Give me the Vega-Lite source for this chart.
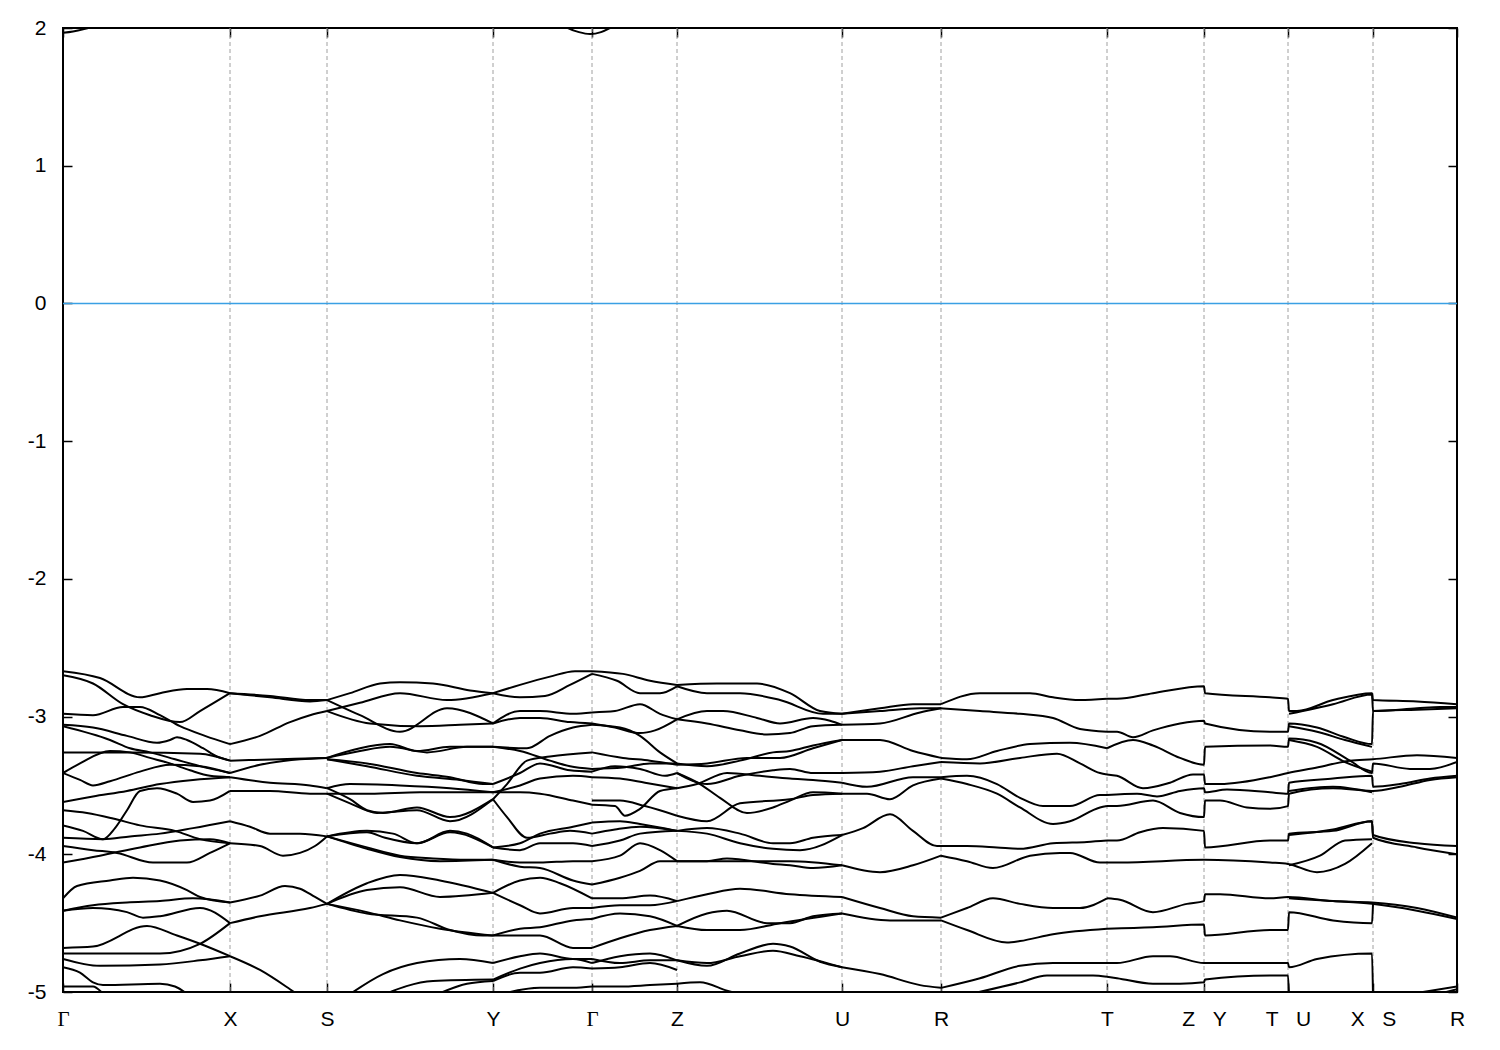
{
  "$schema": "https://vega.github.io/schema/vega-lite/v6.json",
  "width": 1394,
  "height": 964,
  "autosize": "none",
  "padding": {"left": 63, "top": 28, "right": 43, "bottom": 58},
  "background": "white",
  "config": {"view": {"stroke": "#000000", "strokeWidth": 2}, "font": "Liberation Sans"},
  "datasets": {
    "hs": [{"k": 167}, {"k": 264}, {"k": 430}, {"k": 529}, {"k": 614}, {"k": 779}, {"k": 878}, {"k": 1044}, {"k": 1141}, {"k": 1225}, {"k": 1310}],
    "bands": [
      {"b": "cb1", "k": [0, 10, 20, 30, 60, 120], "e": [1.965, 1.975, 1.99, 2.01, 2.1, 2.3]},
      {"b": "cb2", "k": [450, 490, 505, 516, 527, 538, 547, 570, 610], "e": [2.3, 2.08, 2.0, 1.97, 1.956, 1.97, 2.0, 2.1, 2.3]},
      {"b": "a1", "k": [0, 37, 77, 97, 124, 144, 167], "e": [-2.67, -2.72, -2.86, -2.83, -2.80, -2.80, -2.83]},
      {"b": "a2", "k": [0, 30, 60, 87, 117, 137, 167], "e": [-2.70, -2.76, -2.91, -2.99, -3.04, -2.96, -2.83]},
      {"b": "a3", "k": [0, 30, 60, 77, 97, 117, 142, 167], "e": [-2.98, -2.99, -2.93, -2.93, -2.99, -3.07, -3.14, -3.20]},
      {"b": "a4", "k": [0, 30, 64, 94, 107, 114, 124, 140, 154, 167], "e": [-3.06, -3.08, -3.14, -3.19, -3.17, -3.15, -3.17, -3.23, -3.29, -3.32]},
      {"b": "a5", "k": [0, 47, 67, 87, 112, 137, 167], "e": [-3.07, -3.17, -3.23, -3.26, -3.31, -3.36, -3.41]},
      {"b": "a6", "k": [0, 67, 137, 167], "e": [-3.26, -3.26, -3.27, -3.32]},
      {"b": "a7", "k": [0, 17, 47, 67, 87, 107, 127, 147, 167], "e": [-3.41, -3.34, -3.25, -3.26, -3.30, -3.34, -3.39, -3.43, -3.44]},
      {"b": "a8", "k": [0, 17, 30, 47, 77, 107, 137, 167], "e": [-3.41, -3.46, -3.50, -3.47, -3.40, -3.35, -3.36, -3.41]},
      {"b": "a9", "k": [0, 30, 64, 97, 130, 167], "e": [-3.62, -3.58, -3.54, -3.49, -3.46, -3.44]},
      {"b": "a10", "k": [0, 20, 40, 52, 64, 77, 94, 114, 130, 147, 167], "e": [-3.79, -3.83, -3.89, -3.81, -3.68, -3.54, -3.52, -3.56, -3.62, -3.61, -3.54]},
      {"b": "a11", "k": [0, 40, 67, 97, 130, 167], "e": [-3.88, -3.89, -3.87, -3.85, -3.81, -3.76]},
      {"b": "a12", "k": [0, 24, 50, 77, 112, 137, 167], "e": [-3.68, -3.70, -3.74, -3.79, -3.83, -3.89, -3.92]},
      {"b": "a13", "k": [0, 30, 54, 90, 124, 147, 167], "e": [-3.94, -3.97, -3.99, -4.06, -4.06, -3.99, -3.92]},
      {"b": "a14", "k": [0, 37, 77, 117, 147, 167], "e": [-4.06, -4.01, -3.95, -3.90, -3.89, -3.92]},
      {"b": "a15", "k": [0, 14, 47, 70, 97, 124, 137, 167], "e": [-4.32, -4.23, -4.19, -4.17, -4.19, -4.26, -4.31, -4.35]},
      {"b": "a16", "k": [0, 30, 64, 97, 130, 167], "e": [-4.41, -4.37, -4.35, -4.34, -4.32, -4.35]},
      {"b": "a17", "k": [0, 30, 64, 80, 97, 137, 167], "e": [-4.41, -4.39, -4.42, -4.46, -4.45, -4.39, -4.50]},
      {"b": "a18", "k": [0, 30, 84, 114, 137, 167], "e": [-4.68, -4.67, -4.52, -4.59, -4.65, -4.74]},
      {"b": "a19", "k": [0, 37, 97, 137, 167], "e": [-4.72, -4.72, -4.72, -4.65, -4.50]},
      {"b": "a20", "k": [0, 37, 97, 137, 167], "e": [-4.76, -4.81, -4.80, -4.77, -4.74]},
      {"b": "a21", "k": [0, 17, 30, 40, 97, 112, 127], "e": [-4.82, -4.86, -4.93, -4.95, -4.94, -4.96, -5.03]},
      {"b": "a22", "k": [0, 30, 40, 47], "e": [-4.96, -4.96, -5.01, -5.06]},
      {"b": "b1", "k": [167, 207, 247, 264], "e": [-2.83, -2.86, -2.89, -2.88]},
      {"b": "b2", "k": [167, 207, 247, 264], "e": [-2.83, -2.85, -2.88, -2.88]},
      {"b": "b3", "k": [167, 197, 227, 247, 264], "e": [-3.20, -3.14, -3.04, -2.99, -2.96]},
      {"b": "b4", "k": [167, 217, 264], "e": [-3.32, -3.31, -3.30]},
      {"b": "b5", "k": [167, 197, 237, 264], "e": [-3.41, -3.35, -3.31, -3.30]},
      {"b": "b6", "k": [167, 207, 247, 264], "e": [-3.44, -3.48, -3.50, -3.52]},
      {"b": "b7", "k": [167, 207, 247, 264], "e": [-3.54, -3.54, -3.56, -3.56]},
      {"b": "b8", "k": [167, 187, 207, 237, 264], "e": [-3.76, -3.80, -3.85, -3.85, -3.87]},
      {"b": "b9", "k": [167, 197, 220, 237, 252, 264], "e": [-3.92, -3.94, -4.01, -3.99, -3.94, -3.87]},
      {"b": "b10", "k": [167, 197, 222, 237, 252, 264], "e": [-4.35, -4.30, -4.23, -4.25, -4.31, -4.36]},
      {"b": "b11", "k": [167, 197, 247, 264], "e": [-4.50, -4.45, -4.39, -4.36]},
      {"b": "b12", "k": [167, 197, 227, 237], "e": [-4.74, -4.84, -4.98, -5.03]},
      {"b": "c1", "k": [264, 287, 317, 337, 370, 407, 430], "e": [-2.88, -2.83, -2.76, -2.75, -2.76, -2.81, -2.83]},
      {"b": "c2", "k": [264, 297, 337, 384, 430], "e": [-2.96, -2.90, -2.83, -2.88, -2.83]},
      {"b": "c3", "k": [264, 297, 337, 384, 430], "e": [-2.88, -2.99, -3.11, -2.94, -3.05]},
      {"b": "c4", "k": [264, 307, 357, 397, 430], "e": [-2.96, -3.05, -3.07, -3.06, -3.05]},
      {"b": "c5", "k": [264, 297, 327, 354, 387, 430], "e": [-3.30, -3.23, -3.20, -3.25, -3.22, -3.22]},
      {"b": "c6", "k": [264, 297, 327, 364, 404, 430], "e": [-3.30, -3.25, -3.22, -3.26, -3.22, -3.22]},
      {"b": "c7", "k": [264, 304, 354, 387, 420, 430], "e": [-3.31, -3.34, -3.41, -3.44, -3.49, -3.49]},
      {"b": "c8", "k": [264, 304, 354, 397, 430], "e": [-3.31, -3.36, -3.43, -3.46, -3.49]},
      {"b": "c9", "k": [264, 287, 337, 387, 430], "e": [-3.52, -3.49, -3.50, -3.52, -3.55]},
      {"b": "c10", "k": [264, 307, 357, 430], "e": [-3.56, -3.56, -3.55, -3.55]},
      {"b": "c11", "k": [264, 287, 304, 320, 354, 387, 430], "e": [-3.52, -3.60, -3.68, -3.70, -3.66, -3.73, -3.60]},
      {"b": "c12", "k": [264, 287, 314, 354, 387, 430], "e": [-3.56, -3.63, -3.70, -3.68, -3.76, -3.60]},
      {"b": "c13", "k": [264, 304, 330, 354, 387, 404, 430], "e": [-3.87, -3.83, -3.85, -3.92, -3.83, -3.85, -3.95]},
      {"b": "c14", "k": [264, 304, 322, 354, 387, 430], "e": [-3.87, -3.84, -3.88, -3.92, -3.84, -3.95]},
      {"b": "c15", "k": [264, 304, 337, 370, 404, 430], "e": [-3.87, -3.95, -4.01, -4.03, -4.04, -4.04]},
      {"b": "c16", "k": [264, 304, 337, 377, 430], "e": [-3.87, -3.96, -4.02, -4.05, -4.04]},
      {"b": "c17", "k": [264, 304, 337, 377, 430], "e": [-4.36, -4.21, -4.15, -4.19, -4.28]},
      {"b": "c18", "k": [264, 304, 337, 377, 430], "e": [-4.36, -4.26, -4.24, -4.31, -4.28]},
      {"b": "c19", "k": [264, 304, 354, 387, 420, 430], "e": [-4.36, -4.43, -4.46, -4.55, -4.59, -4.59]},
      {"b": "c20", "k": [264, 304, 337, 377, 430], "e": [-4.36, -4.42, -4.48, -4.54, -4.59]},
      {"b": "c21", "k": [284, 320, 354, 397, 430], "e": [-5.03, -4.87, -4.79, -4.76, -4.79]},
      {"b": "c22", "k": [317, 370, 430], "e": [-5.03, -4.92, -4.91]},
      {"b": "c23", "k": [370, 404, 430], "e": [-5.03, -4.94, -4.92]},
      {"b": "d1", "k": [430, 457, 487, 512, 529], "e": [-2.83, -2.77, -2.71, -2.67, -2.67]},
      {"b": "d2", "k": [430, 457, 482, 507, 529], "e": [-2.83, -2.86, -2.85, -2.77, -2.69]},
      {"b": "d3", "k": [430, 457, 477, 510, 529], "e": [-3.05, -2.96, -2.96, -2.98, -2.97]},
      {"b": "d4", "k": [430, 457, 477, 507, 529], "e": [-3.05, -3.01, -3.01, -3.04, -3.05]},
      {"b": "d5", "k": [430, 464, 487, 510, 529], "e": [-3.22, -3.23, -3.14, -3.08, -3.06]},
      {"b": "d6", "k": [430, 457, 487, 507, 529], "e": [-3.22, -3.25, -3.32, -3.36, -3.38]},
      {"b": "d7", "k": [430, 457, 477, 507, 529], "e": [-3.49, -3.41, -3.34, -3.39, -3.40]},
      {"b": "d8", "k": [430, 457, 477, 510, 529], "e": [-3.55, -3.50, -3.45, -3.43, -3.44]},
      {"b": "d9", "k": [430, 457, 477, 510, 529], "e": [-3.55, -3.55, -3.56, -3.61, -3.64]},
      {"b": "d10", "k": [430, 444, 464, 487, 529], "e": [-3.60, -3.49, -3.32, -3.29, -3.26]},
      {"b": "d11", "k": [430, 444, 464, 487, 507, 529], "e": [-3.60, -3.73, -3.88, -3.85, -3.83, -3.85]},
      {"b": "d12", "k": [430, 457, 477, 510, 529], "e": [-3.95, -3.92, -3.85, -3.80, -3.77]},
      {"b": "d13", "k": [430, 457, 477, 510, 529], "e": [-3.95, -3.97, -3.92, -3.92, -3.94]},
      {"b": "d14", "k": [430, 457, 477, 510, 529], "e": [-4.04, -4.06, -4.06, -4.05, -4.05]},
      {"b": "d15", "k": [430, 457, 477, 510, 529], "e": [-4.04, -4.09, -4.10, -4.19, -4.22]},
      {"b": "d16", "k": [430, 457, 477, 497, 529], "e": [-4.28, -4.19, -4.17, -4.21, -4.32]},
      {"b": "d17", "k": [430, 457, 477, 510, 529], "e": [-4.28, -4.37, -4.43, -4.39, -4.39]},
      {"b": "d18", "k": [430, 457, 477, 510, 529], "e": [-4.59, -4.54, -4.53, -4.48, -4.47]},
      {"b": "d19", "k": [430, 457, 477, 510, 529], "e": [-4.59, -4.59, -4.59, -4.68, -4.68]},
      {"b": "d20", "k": [430, 457, 477, 510, 529], "e": [-4.79, -4.74, -4.72, -4.76, -4.76]},
      {"b": "d21", "k": [430, 457, 477, 510, 529], "e": [-4.91, -4.83, -4.79, -4.76, -4.79]},
      {"b": "d22", "k": [430, 457, 477, 510, 529], "e": [-4.92, -4.86, -4.86, -4.82, -4.83]},
      {"b": "d23", "k": [430, 477, 510, 529], "e": [-5.03, -4.97, -4.97, -4.96]},
      {"b": "e1", "k": [529, 560, 587, 614], "e": [-2.67, -2.69, -2.74, -2.77]},
      {"b": "e2", "k": [529, 554, 577, 597, 614], "e": [-2.69, -2.74, -2.83, -2.83, -2.78]},
      {"b": "e3", "k": [529, 552, 577, 597, 614], "e": [-2.97, -2.96, -2.91, -2.98, -3.02]},
      {"b": "e4", "k": [529, 552, 577, 592, 614], "e": [-3.05, -3.08, -3.12, -3.10, -3.02]},
      {"b": "e5", "k": [529, 557, 577, 597, 614], "e": [-3.06, -3.08, -3.14, -3.26, -3.34]},
      {"b": "e6", "k": [529, 560, 587, 614], "e": [-3.38, -3.37, -3.34, -3.34]},
      {"b": "e6b", "k": [529, 560, 587, 614], "e": [-3.26, -3.30, -3.32, -3.35]},
      {"b": "e7", "k": [529, 552, 577, 602, 614], "e": [-3.40, -3.36, -3.38, -3.43, -3.41]},
      {"b": "e8", "k": [529, 557, 582, 614], "e": [-3.44, -3.45, -3.48, -3.52]},
      {"b": "e9", "k": [529, 552, 562, 577, 597, 614], "e": [-3.64, -3.65, -3.72, -3.67, -3.54, -3.52]},
      {"b": "e10", "k": [529, 557, 582, 614], "e": [-3.61, -3.61, -3.65, -3.72]},
      {"b": "e11", "k": [529, 552, 577, 614], "e": [-3.85, -3.82, -3.80, -3.83]},
      {"b": "e12", "k": [529, 557, 577, 614], "e": [-3.77, -3.76, -3.78, -3.83]},
      {"b": "e13", "k": [529, 557, 577, 614], "e": [-3.94, -3.90, -3.85, -3.83]},
      {"b": "e14", "k": [529, 557, 577, 597, 614], "e": [-4.05, -4.01, -3.92, -3.97, -4.05]},
      {"b": "e15", "k": [529, 557, 577, 597, 614], "e": [-4.22, -4.17, -4.12, -4.05, -4.05]},
      {"b": "e16", "k": [529, 557, 587, 614], "e": [-4.32, -4.32, -4.30, -4.34]},
      {"b": "e17", "k": [529, 557, 587, 614], "e": [-4.39, -4.37, -4.37, -4.34]},
      {"b": "e18", "k": [529, 557, 587, 614], "e": [-4.47, -4.43, -4.45, -4.52]},
      {"b": "e19", "k": [529, 557, 587, 614], "e": [-4.68, -4.61, -4.55, -4.52]},
      {"b": "e20", "k": [529, 557, 587, 614], "e": [-4.76, -4.79, -4.77, -4.77]},
      {"b": "e21", "k": [529, 557, 587, 614], "e": [-4.79, -4.74, -4.72, -4.77]},
      {"b": "e22", "k": [529, 557, 587, 614], "e": [-4.83, -4.82, -4.79, -4.84]},
      {"b": "e23", "k": [529, 557, 587, 614], "e": [-4.96, -4.96, -4.95, -4.94]},
      {"b": "z1", "k": [614, 654, 694, 727, 757, 779], "e": [-2.77, -2.76, -2.76, -2.83, -2.96, -2.98]},
      {"b": "z2", "k": [614, 644, 677, 717, 760, 779], "e": [-2.78, -2.83, -2.83, -2.88, -2.98, -2.98]},
      {"b": "z3", "k": [614, 644, 660, 694, 717, 750, 767, 779], "e": [-3.02, -2.96, -2.96, -3.01, -3.05, -3.01, -3.03, -3.06]},
      {"b": "z4", "k": [614, 644, 677, 704, 727, 750, 779], "e": [-3.02, -3.05, -3.10, -3.13, -3.12, -3.07, -3.06]},
      {"b": "z5", "k": [614, 644, 677, 710, 727, 750, 779], "e": [-3.34, -3.36, -3.32, -3.26, -3.25, -3.21, -3.17]},
      {"b": "z6", "k": [614, 644, 684, 717, 750, 779], "e": [-3.35, -3.34, -3.30, -3.30, -3.23, -3.17]},
      {"b": "z7", "k": [614, 637, 657, 684, 710, 727, 750, 779], "e": [-3.41, -3.49, -3.59, -3.70, -3.66, -3.61, -3.55, -3.56]},
      {"b": "z8", "k": [614, 644, 677, 710, 727, 750, 779], "e": [-3.41, -3.49, -3.43, -3.39, -3.38, -3.41, -3.41]},
      {"b": "z9", "k": [614, 634, 664, 697, 727, 750, 779], "e": [-3.52, -3.49, -3.41, -3.43, -3.45, -3.46, -3.48]},
      {"b": "z10", "k": [614, 644, 677, 710, 727, 750, 779], "e": [-3.83, -3.81, -3.85, -3.92, -3.92, -3.88, -3.86]},
      {"b": "z11", "k": [614, 644, 677, 710, 737, 779], "e": [-3.83, -3.85, -3.92, -3.96, -3.97, -3.86]},
      {"b": "z12", "k": [614, 644, 664, 710, 727, 750, 779], "e": [-4.05, -4.05, -4.03, -4.07, -4.08, -4.10, -4.08]},
      {"b": "z13", "k": [614, 677, 727, 779], "e": [-4.05, -4.05, -4.05, -4.08]},
      {"b": "z14", "k": [614, 644, 677, 727, 779], "e": [-4.34, -4.29, -4.25, -4.29, -4.31]},
      {"b": "z15", "k": [614, 644, 664, 704, 727, 750, 779], "e": [-4.52, -4.43, -4.41, -4.50, -4.50, -4.45, -4.43]},
      {"b": "z16", "k": [614, 644, 677, 717, 779], "e": [-4.52, -4.55, -4.55, -4.50, -4.43]},
      {"b": "z17", "k": [614, 644, 677, 710, 727, 757, 779], "e": [-4.77, -4.81, -4.72, -4.65, -4.67, -4.78, -4.82]},
      {"b": "z18", "k": [614, 644, 677, 710, 737, 779], "e": [-4.77, -4.79, -4.74, -4.70, -4.74, -4.82]},
      {"b": "z19", "k": [614, 637, 664, 684], "e": [-4.94, -4.93, -4.99, -5.03]},
      {"b": "z20", "k": [614, 644, 677, 727, 750, 779], "e": [-3.72, -3.76, -3.63, -3.60, -3.57, -3.56]},
      {"b": "u1", "k": [779, 817, 850, 878], "e": [-2.98, -2.94, -2.91, -2.91]},
      {"b": "u2", "k": [779, 817, 857, 878], "e": [-2.98, -2.96, -2.94, -2.94]},
      {"b": "u2c", "k": [779, 817, 857, 878], "e": [-3.06, -3.05, -2.97, -2.94]},
      {"b": "u3", "k": [779, 817, 850, 878], "e": [-3.17, -3.17, -3.25, -3.30]},
      {"b": "u5", "k": [779, 817, 850, 878], "e": [-3.41, -3.40, -3.36, -3.33]},
      {"b": "u6", "k": [779, 804, 850, 878], "e": [-3.48, -3.51, -3.44, -3.44]},
      {"b": "u7", "k": [779, 804, 827, 850, 878], "e": [-3.56, -3.56, -3.60, -3.50, -3.45]},
      {"b": "u8", "k": [779, 800, 827, 850, 874, 878], "e": [-3.86, -3.81, -3.71, -3.83, -3.94, -3.94]},
      {"b": "u9", "k": [779, 817, 850, 878], "e": [-4.08, -4.13, -4.08, -4.01]},
      {"b": "u10", "k": [779, 817, 850, 878], "e": [-4.31, -4.39, -4.45, -4.46]},
      {"b": "u11", "k": [779, 827, 878], "e": [-4.43, -4.48, -4.48]},
      {"b": "u12", "k": [779, 817, 857, 878], "e": [-4.82, -4.87, -4.95, -4.97]},
      {"b": "r1", "k": [878, 917, 967, 990, 1017, 1044], "e": [-2.91, -2.83, -2.83, -2.86, -2.88, -2.87]},
      {"b": "r2", "k": [878, 917, 957, 990, 1017, 1044], "e": [-2.94, -2.96, -2.98, -3.01, -3.09, -3.11]},
      {"b": "r3", "k": [878, 904, 934, 967, 1007, 1044], "e": [-3.30, -3.31, -3.25, -3.20, -3.19, -3.23]},
      {"b": "r4", "k": [878, 917, 957, 994, 1017, 1037, 1044], "e": [-3.33, -3.34, -3.30, -3.27, -3.34, -3.41, -3.42]},
      {"b": "r5", "k": [878, 904, 934, 957, 980, 1007, 1037, 1044], "e": [-3.44, -3.43, -3.49, -3.59, -3.65, -3.65, -3.57, -3.57]},
      {"b": "r6", "k": [878, 904, 934, 957, 990, 1007, 1037, 1044], "e": [-3.45, -3.49, -3.56, -3.66, -3.78, -3.76, -3.66, -3.65]},
      {"b": "r7", "k": [878, 904, 934, 957, 990, 1024, 1044], "e": [-3.94, -3.94, -3.95, -3.96, -3.92, -3.91, -3.90]},
      {"b": "r8", "k": [878, 904, 930, 967, 997, 1007, 1037, 1044], "e": [-4.01, -4.05, -4.10, -4.01, -3.99, -3.99, -4.06, -4.06]},
      {"b": "r9", "k": [878, 904, 930, 957, 990, 1017, 1044], "e": [-4.46, -4.39, -4.32, -4.36, -4.39, -4.39, -4.32]},
      {"b": "r10", "k": [878, 904, 944, 957, 990, 1044], "e": [-4.48, -4.55, -4.64, -4.63, -4.58, -4.54]},
      {"b": "r11", "k": [878, 917, 957, 990, 1044], "e": [-4.97, -4.90, -4.81, -4.79, -4.79]},
      {"b": "r12", "k": [910, 957, 984, 1030, 1044], "e": [-5.01, -4.93, -4.88, -4.88, -4.89]},
      {"b": "t1", "k": [1044, 1054, 1090, 1141, 1142, 1207, 1225, 1226, 1234, 1270, 1309, 1310, 1354, 1394], "e": [-2.87, -2.87, -2.83, -2.78, -2.83, -2.86, -2.87, -2.96, -2.96, -2.88, -2.83, -2.88, -2.89, -2.91]},
      {"b": "x1b", "k": [1226, 1270, 1309, 1310, 1354, 1377, 1394], "e": [-2.98, -2.91, -2.84, -2.96, -2.94, -2.93, -2.93]},
      {"b": "t2", "k": [1044, 1054, 1070, 1090, 1117, 1141, 1142, 1207, 1225, 1226, 1254, 1282, 1309, 1310, 1354, 1394], "e": [-3.11, -3.11, -3.15, -3.10, -3.05, -3.03, -3.05, -3.11, -3.11, -3.05, -3.08, -3.15, -3.20, -2.96, -2.95, -2.94]},
      {"b": "x2b", "k": [1226, 1254, 1282, 1309], "e": [-3.07, -3.11, -3.17, -3.22]},
      {"b": "t3", "k": [1044, 1070, 1090, 1117, 1141, 1142, 1207, 1225, 1226, 1254, 1287, 1309, 1310, 1347, 1367, 1394], "e": [-3.23, -3.17, -3.21, -3.30, -3.35, -3.22, -3.21, -3.22, -3.16, -3.19, -3.32, -3.41, -3.34, -3.38, -3.38, -3.33]},
      {"b": "x3b", "k": [1226, 1254, 1282, 1309], "e": [-3.17, -3.22, -3.33, -3.40]},
      {"b": "t4", "k": [1044, 1054, 1080, 1107, 1130, 1141, 1142, 1157, 1207, 1225, 1254, 1287, 1310, 1354, 1394], "e": [-3.42, -3.43, -3.52, -3.48, -3.42, -3.42, -3.49, -3.49, -3.44, -3.41, -3.37, -3.32, -3.31, -3.28, -3.30]},
      {"b": "t5", "k": [1044, 1074, 1094, 1117, 1141, 1142, 1164, 1207, 1225, 1226, 1270, 1309, 1310, 1337, 1367, 1394], "e": [-3.57, -3.56, -3.58, -3.54, -3.52, -3.55, -3.53, -3.55, -3.56, -3.48, -3.45, -3.43, -3.51, -3.49, -3.45, -3.43]},
      {"b": "t6", "k": [1044, 1054, 1090, 1117, 1141, 1142, 1157, 1184, 1207, 1225, 1226, 1270, 1309, 1310, 1337, 1367, 1394], "e": [-3.65, -3.65, -3.61, -3.70, -3.73, -3.61, -3.61, -3.66, -3.67, -3.65, -3.56, -3.52, -3.54, -3.54, -3.51, -3.46, -3.44]},
      {"b": "x7", "k": [1226, 1270, 1309], "e": [-3.54, -3.51, -3.55]},
      {"b": "t7", "k": [1044, 1054, 1077, 1100, 1141, 1142, 1207, 1225, 1226, 1270, 1309, 1310, 1354, 1394], "e": [-3.90, -3.90, -3.84, -3.81, -3.83, -3.95, -3.90, -3.90, -3.85, -3.83, -3.76, -3.86, -3.92, -3.94]},
      {"b": "x8b", "k": [1226, 1270, 1309, 1310, 1354, 1394], "e": [-3.86, -3.82, -3.76, -3.88, -3.95, -4.00]},
      {"b": "t8", "k": [1044, 1057, 1141, 1207, 1225, 1254, 1282, 1309], "e": [-4.06, -4.06, -4.04, -4.06, -4.07, -4.13, -4.07, -3.92]},
      {"b": "x9b", "k": [1226, 1257, 1282, 1309], "e": [-4.08, -4.01, -3.90, -3.89]},
      {"b": "t9", "k": [1044, 1057, 1090, 1124, 1141, 1142, 1157, 1207, 1225, 1270, 1309, 1354, 1394], "e": [-4.32, -4.33, -4.42, -4.36, -4.34, -4.29, -4.29, -4.32, -4.31, -4.34, -4.35, -4.39, -4.46]},
      {"b": "x10b", "k": [1226, 1270, 1309, 1354, 1394], "e": [-4.32, -4.34, -4.36, -4.41, -4.47]},
      {"b": "t10", "k": [1044, 1090, 1141, 1142, 1207, 1225, 1226, 1270, 1309, 1310], "e": [-4.54, -4.53, -4.51, -4.59, -4.55, -4.55, -4.42, -4.48, -4.50, -4.36]},
      {"b": "t11", "k": [1044, 1054, 1090, 1107, 1141, 1207, 1225, 1226, 1254, 1309, 1310], "e": [-4.79, -4.79, -4.74, -4.74, -4.79, -4.79, -4.79, -4.82, -4.76, -4.72, -5.03]},
      {"b": "t12", "k": [1044, 1054, 1090, 1117, 1141, 1142, 1207, 1225, 1226], "e": [-4.89, -4.90, -4.94, -4.94, -4.93, -4.91, -4.88, -4.88, -5.03]},
      {"b": "w9", "k": [1360, 1394], "e": [-5.00, -4.96]},
      {"b": "w9b", "k": [1367, 1394], "e": [-5.03, -4.98]}
    ]
  },
  "resolve": {"axis": {"x": "independent", "y": "independent"}},
  "layer": [
    {
      "data": {"name": "hs"},
      "mark": {"type": "rule", "color": "#a0a0a0", "strokeWidth": 1, "strokeDash": [4, 3]},
      "encoding": {
        "x": {
          "field": "k", "type": "quantitative",
          "scale": {"domain": [0, 1394], "nice": false, "zero": false},
          "axis": {"orient": "top", "title": null, "values": [0, 167, 264, 430, 529, 614, 779, 878, 1044, 1141, 1225, 1310, 1394], "labels": false, "grid": false, "domain": false, "ticks": true, "tickSize": -9, "tickColor": "#000000", "tickWidth": 1.5}
        }
      }
    },
    {
      "data": {"values": [{"f": 0}]},
      "mark": {"type": "rule", "color": "#3aa0e4", "strokeWidth": 1.6},
      "encoding": {
        "y": {
          "field": "f", "type": "quantitative",
          "scale": {"domain": [-5, 2], "nice": false, "zero": false},
          "axis": {"orient": "right", "title": null, "values": [-5, -4, -3, -2, -1, 0, 1, 2], "labels": false, "grid": false, "domain": false, "ticks": true, "tickSize": -9, "tickColor": "#000000", "tickWidth": 1.5}
        }
      }
    },
    {
      "data": {"name": "bands"},
      "transform": [{"flatten": ["k", "e"]}],
      "mark": {"type": "line", "color": "#000000", "strokeWidth": 2, "clip": true, "interpolate": "monotone"},
      "encoding": {
        "x": {
          "field": "k", "type": "quantitative",
          "scale": {"domain": [0, 1394], "nice": false, "zero": false},
          "axis": {
            "orient": "bottom", "title": null, "grid": false, "domain": false,
            "values": [0, 167, 264, 430, 529, 614, 779, 878, 1044, 1141, 1225, 1310, 1394],
            "labelExpr": "['Γ','X','S','Y','Γ','Z','U','R','T','Z\u00a0\u00a0\u00a0Y','T\u00a0\u00a0\u00a0U','X\u00a0\u00a0\u00a0S','R'][indexof([0,167,264,430,529,614,779,878,1044,1141,1225,1310,1394], datum.value)]",
            "labelFont": {"condition": {"test": "datum.value == 0 || datum.value == 529", "value": "Liberation Serif"}, "value": "Liberation Sans"},
            "labelFontSize": 21, "labelColor": "#000000", "labelFlush": false, "labelOverlap": false, "labelBound": false,
            "labelPadding": 25, "ticks": true, "tickSize": -9, "tickColor": "#000000", "tickWidth": 1.5
          }
        },
        "y": {
          "field": "e", "type": "quantitative",
          "scale": {"domain": [-5, 2], "nice": false, "zero": false},
          "axis": {
            "orient": "left", "title": null, "grid": false, "domain": false,
            "values": [-5, -4, -3, -2, -1, 0, 1, 2],
            "labelExpr": "'' + datum.value",
            "labelFont": "Liberation Sans", "labelFontSize": 21, "labelColor": "#000000", "labelFlush": false, "labelOverlap": false,
            "labelPadding": 26, "ticks": true, "tickSize": -9, "tickColor": "#000000", "tickWidth": 1.5
          }
        },
        "detail": {"field": "b"},
        "order": {"value": null}
      }
    }
  ]
}
